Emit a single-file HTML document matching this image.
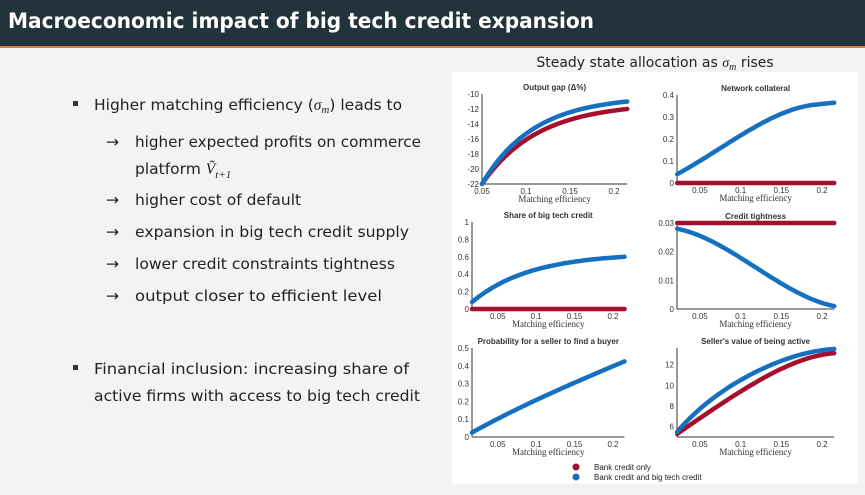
<!DOCTYPE html>
<html><head><meta charset="utf-8"><style>
body{margin:0;width:865px;height:490px;overflow:hidden;background:#f3f3f3;font-family:"Liberation Sans",sans-serif}
</style></head><body>
<svg id="s" width="865" height="490" xmlns="http://www.w3.org/2000/svg">
<rect x="0" y="0" width="865" height="490" fill="#f3f3f3"/>
<rect x="0" y="0" width="865" height="46" fill="#22333b"/>
<rect x="0" y="46" width="865" height="2" fill="#e07a2e"/>
<text x="8" y="28" fill="#fff" font-size="21" font-weight="bold" font-family="DejaVu Sans, sans-serif" textLength="586" lengthAdjust="spacingAndGlyphs">Macroeconomic impact of big tech credit expansion</text>
<rect x="452" y="72" width="406" height="412" fill="#fff"/>
<text x="655" y="67" text-anchor="middle" font-size="14" fill="#222" font-family="DejaVu Sans, sans-serif">Steady state allocation as <tspan font-style="italic" font-family="Liberation Serif">σ</tspan><tspan font-style="italic" font-size="10" dy="3" font-family="Liberation Serif">m</tspan><tspan dy="-3"> rises</tspan></text>
<g font-family="DejaVu Sans, sans-serif" font-size="15.5" fill="#222">
<rect x="73" y="101" width="5" height="5" fill="#333"/>
<text x="94" y="110">Higher matching efficiency (<tspan font-style="italic" font-family="Liberation Serif">σ</tspan><tspan font-style="italic" font-size="11" dy="3" font-family="Liberation Serif">m</tspan><tspan dy="-3">) leads to</tspan></text>
<text x="106" y="147">→</text><text x="135" y="147" textLength="286" lengthAdjust="spacingAndGlyphs">higher expected profits on commerce</text>
<text x="135" y="174">platform <tspan font-style="italic" font-family="Liberation Serif">Ṽ</tspan><tspan font-style="italic" font-size="11" dy="4" font-family="Liberation Serif">t+1</tspan></text>
<text x="106" y="205">→</text><text x="135" y="205">higher cost of default</text>
<text x="106" y="237">→</text><text x="135" y="237" textLength="274" lengthAdjust="spacingAndGlyphs">expansion in big tech credit supply</text>
<text x="106" y="269">→</text><text x="135" y="269" textLength="260" lengthAdjust="spacingAndGlyphs">lower credit constraints tightness</text>
<text x="106" y="301">→</text><text x="135" y="301" textLength="247" lengthAdjust="spacingAndGlyphs">output closer to efficient level</text>
<rect x="73" y="365" width="5" height="5" fill="#333"/>
<text x="94" y="374" textLength="315" lengthAdjust="spacingAndGlyphs">Financial inclusion: increasing share of</text>
<text x="94" y="401" textLength="326" lengthAdjust="spacingAndGlyphs">active firms with access to big tech credit</text>
</g>
<g id="charts" font-size="8" fill="#333"></g>
<circle cx="576" cy="467" r="3.5" fill="#a50f2d"/>
<circle cx="576" cy="477" r="3.5" fill="#1570c0"/>
<text x="594" y="470" font-size="8" fill="#222">Bank credit only</text>
<text x="594" y="480" font-size="8" fill="#222">Bank credit and big tech credit</text>
</svg>
<script>
var NS="http://www.w3.org/2000/svg",G=document.getElementById("charts");
function el(t,a,txt){var e=document.createElementNS(NS,t);for(var k in a)e.setAttribute(k,a[k]);if(txt!=null)e.textContent=txt;G.appendChild(e);return e;}
function conc(t,k){return (1-Math.exp(-k*t))/(1-Math.exp(-k));}
function sig(t){return t*t*(3-2*t);}
function panel(o){
 var X=function(x){return o.x0+(x-o.xa)/(o.xb-o.xa)*(o.x1-o.x0);};
 var Y=function(y){return o.y1-(y-o.ya)/(o.yb-o.ya)*(o.y1-o.y0);};
 el("line",{x1:o.x0,y1:o.y0,x2:o.x0,y2:o.y1,stroke:"#333","stroke-width":1});
 el("line",{x1:o.x0,y1:o.y1,x2:X(o.xe),y2:o.y1,stroke:"#333","stroke-width":1});
 o.xt.forEach(function(v){el("text",{x:X(v),y:o.y1+10,"text-anchor":"middle"},String(v));});
 o.yt.forEach(function(v){el("text",{x:o.x0-3,y:Y(v)+3,"text-anchor":"end"},String(v));});
 el("text",{x:(o.x0+X(o.xe))/2,y:o.y0-4,"text-anchor":"middle","font-weight":"bold"},o.title);
 el("text",{x:(o.x0+X(o.xe))/2,y:o.y1+18,"text-anchor":"middle","font-family":"Liberation Serif, serif","font-size":"9"},"Matching efficiency");
 o.series.forEach(function(s){var p=[];for(var i=0;i<=60;i++){var t=i/60;var x=o.xs+(o.xe-o.xs)*t;p.push(X(x).toFixed(1)+","+Y(s.f(t)).toFixed(1));}
  el("polyline",{points:p.join(" "),fill:"none",stroke:s.c,"stroke-width":s.w||4.5,"stroke-linecap":"round"});});
}
var R="#a50f2d",B="#1570c0";
panel({title:"Output gap (Δ%)",x0:482,x1:614,xa:0.05,xb:0.2,xs:0.05,xe:0.215,y0:94,y1:184,ya:-22,yb:-10,xt:[0.05,0.1,0.15,0.2],yt:[-10,-12,-14,-16,-18,-20,-22],
 series:[{c:R,f:function(t){return -22+10*conc(t,2.6);}},{c:B,f:function(t){return -22+11*conc(t,2.8);}}]});
panel({title:"Network collateral",x0:677,x1:822,xa:0.0218,xb:0.2,xs:0.022,xe:0.215,y0:95,y1:183,ya:0,yb:0.4,xt:[0.05,0.1,0.15,0.2],yt:[0,0.1,0.2,0.3,0.4],
 series:[{c:R,f:function(t){return 0;}},{c:B,f:function(t){return 0.04+0.325*(0.5*conc(t,2)+0.5*sig(Math.min(1,t*1.15))*0.9+0.05*t);}}]});
panel({title:"Share of big tech credit",x0:472,x1:613,xa:0.0164,xb:0.2,xs:0.0164,xe:0.215,y0:222,y1:309,ya:0,yb:1,xt:[0.05,0.1,0.15,0.2],yt:[0,0.2,0.4,0.6,0.8,1],
 series:[{c:R,f:function(t){return 0;}},{c:B,f:function(t){return 0.08+0.52*conc(t,2.6);}}]});
panel({title:"Credit tightness",x0:677,x1:822,xa:0.0218,xb:0.2,xs:0.022,xe:0.215,y0:223,y1:309,ya:0,yb:0.03,xt:[0.05,0.1,0.15,0.2],yt:[0,0.01,0.02,0.03],
 series:[{c:R,f:function(t){return 0.03;}},{c:B,f:function(t){return 0.028-0.027*(0.6*sig(t)+0.4*t);}}]});
panel({title:"Probability for a seller to find a buyer",x0:472,x1:613,xa:0.0164,xb:0.2,xs:0.0164,xe:0.215,y0:348,y1:437,ya:0,yb:0.5,xt:[0.05,0.1,0.15,0.2],yt:[0,0.1,0.2,0.3,0.4,0.5],
 series:[{c:B,f:function(t){return 0.025+0.4*(0.85*t+0.15*conc(t,2));}}]});
panel({title:"Seller's value of being active",x0:677,x1:822,xa:0.0218,xb:0.2,xs:0.022,xe:0.215,y0:348,y1:437,ya:5,yb:13.6,xt:[0.05,0.1,0.15,0.2],yt:[6,8,10,12],
 series:[{c:R,f:function(t){return 5.3+7.8*(0.55*conc(t,2.2)+0.45*sig(t));}},{c:B,f:function(t){return 5.5+8*(0.7*conc(t,3)+0.3*sig(t));}}]});
</script>
</body></html>
